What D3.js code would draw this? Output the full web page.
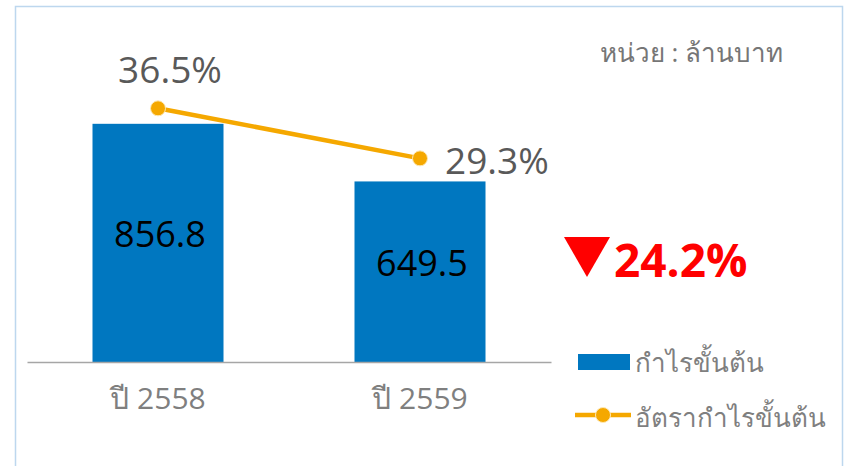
<!DOCTYPE html>
<html>
<head>
<meta charset="utf-8">
<script src="https://cdn.jsdelivr.net/npm/d3@7"></script>
<style>
  body { margin: 0; background: #fff; }
  svg { display: block; font-family: "Open Sans", "Noto Sans", "DejaVu Sans", sans-serif; }
</style>
</head>
<body>
<svg id="chart"></svg>
<script>
const categories = ['ปี 2558', 'ปี 2559'];
const grossProfit = [856.8, 649.5];
const grossMargin = [36.5, 29.3];
const marginLabels = ['36.5%', '29.3%'];
const changeLabel = '24.2%';
const unitLabel = 'หน่วย : ล้านบาท';
const legendLabels = ['กำไรขั้นต้น', 'อัตรากำไรขั้นต้น'];

const width = 844, height = 466;
const barColor = '#0077c0', lineColor = '#f5a800';

const svg = d3.select('#chart').attr('width', width).attr('height', height);

// frame
svg.append('rect')
  .attr('x', 15.5).attr('y', 6.5)
  .attr('width', 827).attr('height', 470)
  .attr('fill', 'none').attr('stroke', '#bdd7ee').attr('stroke-width', 1.5);

const x = d3.scaleBand().domain(categories).range([27, 551])
  .paddingInner(0.5).paddingOuter(0.25);
const y = d3.scaleLinear().domain([0, 1000]).range([362, 84]);
const y2 = d3.scaleLinear().domain([0, 40]).range([362, 84]);

// bars
svg.selectAll('rect.bar').data(grossProfit).enter().append('rect')
  .attr('class', 'bar')
  .attr('x', (d, i) => x(categories[i]))
  .attr('y', d => y(d))
  .attr('width', x.bandwidth())
  .attr('height', d => y(0) - y(d))
  .attr('fill', barColor);

// value labels in bars
svg.selectAll('text.val').data(grossProfit).enter().append('text')
  .attr('class', 'val')
  .attr('x', (d, i) => x(categories[i]) + x.bandwidth() / 2 + 2)
  .attr('y', d => (y(d) + y(0)) / 2 + 4)
  .attr('text-anchor', 'middle')
  .attr('font-size', 36)
  .attr('fill', '#000')
  .text(d => d);

// x axis
const axis = svg.append('g')
  .attr('transform', `translate(0,${y(0)})`)
  .call(d3.axisBottom(x).tickSize(0).tickPadding(26).tickSizeOuter(0));
axis.select('.domain').attr('stroke', '#a6a6a6').attr('stroke-width', 1.5);
axis.selectAll('text')
  .attr('font-size', 30)
  .attr('fill', '#7f7f7f')
  .attr('font-family', '"Open Sans", "Noto Sans", sans-serif');

// margin line
const cx = d => x(d) + x.bandwidth() / 2;
const line = d3.line()
  .x((d, i) => cx(categories[i]))
  .y(d => y2(d));
svg.append('path')
  .datum(grossMargin)
  .attr('d', line)
  .attr('fill', 'none')
  .attr('stroke', lineColor)
  .attr('stroke-width', 4.5);
svg.selectAll('circle.pt').data(grossMargin).enter().append('circle')
  .attr('class', 'pt')
  .attr('cx', (d, i) => cx(categories[i]))
  .attr('cy', d => y2(d))
  .attr('r', 7.5)
  .attr('fill', lineColor)
  .attr('stroke', '#fde9b8')
  .attr('stroke-width', 1);

// margin labels
svg.append('text')
  .attr('x', cx(categories[0]) + 12)
  .attr('y', y2(grossMargin[0]) - 25)
  .attr('text-anchor', 'middle')
  .attr('font-size', 37).attr('fill', '#595959')
  .text(marginLabels[0]);
svg.append('text')
  .attr('x', cx(categories[1]) + 25)
  .attr('y', y2(grossMargin[1]) + 16)
  .attr('text-anchor', 'start')
  .attr('font-size', 37).attr('fill', '#595959')
  .text(marginLabels[1]);

// unit
svg.append('text')
  .attr('x', 783).attr('y', 62)
  .attr('text-anchor', 'end')
  .attr('font-size', 26).attr('fill', '#767676')
  .text(unitLabel);

// change indicator
svg.append('path')
  .attr('d', d3.line()([[564, 237], [610, 237], [587, 277]]) + 'Z')
  .attr('fill', '#ff0000');
svg.append('text')
  .attr('x', 614).attr('y', 277)
  .attr('font-size', 46).attr('font-weight', 'bold').attr('fill', '#ff0000')
  .text(changeLabel);

// legend
const lg = svg.append('g');
lg.append('rect')
  .attr('x', 578).attr('y', 354).attr('width', 52).attr('height', 16)
  .attr('fill', barColor);
lg.append('line')
  .attr('x1', 575).attr('x2', 631).attr('y1', 415).attr('y2', 415)
  .attr('stroke', lineColor).attr('stroke-width', 4.5);
lg.append('circle')
  .attr('cx', 603).attr('cy', 415).attr('r', 7.5)
  .attr('fill', lineColor).attr('stroke', '#fde9b8').attr('stroke-width', 1);
lg.selectAll('text').data(legendLabels).enter().append('text')
  .attr('x', 635)
  .attr('y', (d, i) => 372 + i * 55)
  .attr('font-size', 26).attr('fill', '#7f7f7f')
  .text(d => d);
</script>
</body>
</html>
